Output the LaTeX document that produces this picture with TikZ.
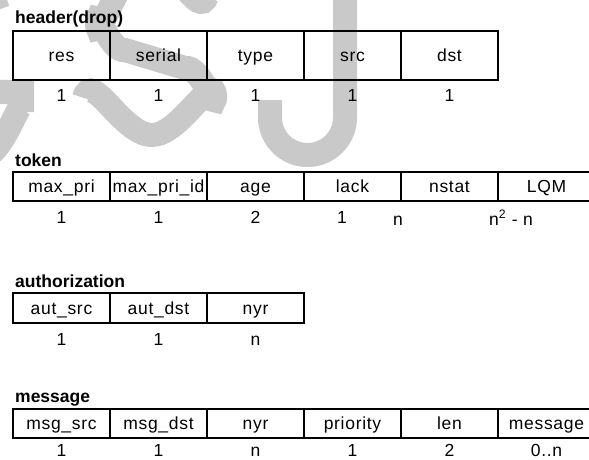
\documentclass[tikz,border=0pt]{standalone}
\usepackage{fontspec}
\setmainfont{Liberation Sans}
\newfontfamily\cellfont[LetterSpace=4]{Liberation Sans}
\definecolor{wmgray}{gray}{0.79}
\begin{document}
\begin{tikzpicture}[x=1pt,y=-1pt,
  cell/.style={draw, line width=2pt, minimum width=97pt, inner sep=0pt,
    anchor=north west, text height=12pt, text depth=0pt,
    font=\cellfont\fontsize{17.5}{20}\selectfont},
  title/.style={anchor=base west, inner sep=0pt,
    font=\bfseries\fontsize{17.5}{20}\selectfont},
  num/.style={anchor=base, inner sep=0pt,
    font=\cellfont\fontsize{17.5}{20}\selectfont},
  wm/.style={draw=wmgray, line width=24pt}]
% canvas
\path[fill=white] (0,0) rectangle (589,460);
\useasboundingbox (0,0) rectangle (589,460);

% faint "GSJ" mark in the background
\draw[wm] (-8,-6) -- (-2,10);
\draw[wm] (-40,92) -- (22,92) -- (22,112) to[out=90,in=0] (-20,158);
\draw[wm] (84,98) to[out=75,in=180] (152,135) to[out=0,in=90] (215,97)
  to[out=270,in=10] (185,68) -- (125,50) to[out=190,in=90] (97,22)
  to[out=270,in=180] (150,-38) to[out=0,in=250] (207,-4);
\draw[wm] (345,-20) -- (345,117.5) arc[start angle=0,end angle=180,radius=37.5] -- (270,100);

% header(drop)
\node[title] (th) at (15,24) {header(drop)};
\foreach \t [count=\i] in {res,serial,type,src,dst}
  \node[cell, minimum height=49pt] (h\i) at ({12+97*(\i-1)},30) {\t};
\foreach \i in {1,...,5}
  \node[num] (hn\i) at (h\i.center |- 0,102) {1};

% token
\node[title] (tt) at (15,166) {token};
\foreach \t [count=\i] in {max\_pri,max\_pri\_id,age,lack,nstat,LQM}
  \node[cell, minimum height=29pt] (t\i) at ({12+97*(\i-1)},171) {\t};
\node[num] (tn1) at (t1.center |- 0,223) {1};
\node[num] (tn2) at (t2.center |- 0,223) {1};
\node[num] (tn3) at (t3.center |- 0,223) {2};
\node[num] (tn4) at (342,223) {1};
\node[num] (tn5) at (398,225) {n};
\node[num, anchor=base west] (tn6) at (489,225) {n\textsuperscript{2} - n};

% authorization
\node[title] (ta) at (15,287) {authorization};
\foreach \t [count=\i] in {aut\_src,aut\_dst,nyr}
  \node[cell, minimum height=30pt] (a\i) at ({12+97*(\i-1)},292) {\t};
\node[num] (an1) at (a1.center |- 0,345) {1};
\node[num] (an2) at (a2.center |- 0,345) {1};
\node[num] (an3) at (a3.center |- 0,345) {n};

% message
\node[title] (tm) at (15,402) {message};
\foreach \t [count=\i] in {msg\_src,msg\_dst,nyr,priority,len,message}
  \node[cell, minimum height=29pt] (m\i) at ({12+97*(\i-1)},408) {\t};
\foreach \v [count=\i] in {1,1,n,1,2,0..n}
  \node[num] (mn\i) at (m\i.center |- 0,456) {\v};
\end{tikzpicture}
\end{document}
